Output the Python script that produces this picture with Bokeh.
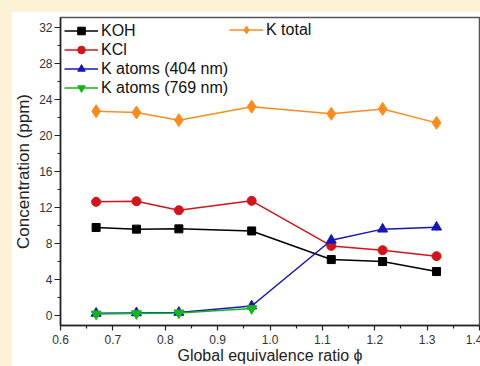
from bokeh.plotting import figure
from bokeh.layouts import column
from bokeh.models import (Range1d, FixedTicker, Legend, LegendItem, Whisker,
                          ColumnDataSource)
from bokeh.embed import file_html
from bokeh.resources import INLINE

# ---- data ----
phi = [0.668, 0.745, 0.826, 0.965, 1.117, 1.215, 1.318]
koh = [9.78, 9.60, 9.63, 9.40, 6.22, 6.00, 4.89]
kcl = [12.63, 12.70, 11.70, 12.74, 7.74, 7.26, 6.60]
kcl_err = [0.60, 0.30, 0.20, 0.20, 0.25, 0.20, 0.20]
k404 = [0.25, 0.30, 0.35, 1.07, 8.37, 9.60, 9.82]
k404_err = [0.25, 0.20, 0.20, 0.20, 0.20, 0.20, 0.40]
phi769 = [0.668, 0.745, 0.826, 0.965]
k769 = [0.18, 0.22, 0.30, 0.78]
ktotal = [22.70, 22.55, 21.70, 23.20, 22.40, 22.95, 21.40]

x_ticks = [0.6, 0.7, 0.8, 0.9, 1.0, 1.1, 1.2, 1.3, 1.4]
x_minor = [0.65, 0.75, 0.85, 0.95, 1.05, 1.15, 1.25, 1.35]
y_ticks = [0, 4, 8, 12, 16, 20, 24, 28, 32]
y_minor = [2, 6, 10, 14, 18, 22, 26, 30]

CREAM = "#FDF1D6"

p = figure(frame_width=419, frame_height=308, output_backend="svg",
           toolbar_location=None,
           x_range=Range1d(0.6, 1.4), y_range=Range1d(-1.1, 33.1),
           min_border_left=47, min_border_top=6, min_border_right=3,
           min_border_bottom=41)
p.margin = (11, 0, 0, 11)
p.background_fill_color = "white"
p.border_fill_color = "white"
p.outline_line_color = "#555555"
p.outline_line_width = 1.5
p.xgrid.visible = False
p.ygrid.visible = False

FONT = "Liberation Sans"
for ax in (p.xaxis[0], p.yaxis[0]):
    ax.axis_line_color = "#222222"
    ax.axis_line_width = 1.5
    ax.major_tick_line_color = "#222222"
    ax.minor_tick_line_color = "#222222"
    ax.major_tick_line_width = 1.2
    ax.minor_tick_line_width = 1.2
    ax.major_tick_in = 0
    ax.minor_tick_in = 0
    ax.major_label_text_font = FONT
    ax.major_label_text_font_size = "12px"
    ax.major_label_text_color = "#333333"
    ax.axis_label_text_font = FONT
    ax.axis_label_text_font_style = "normal"
    ax.axis_label_text_color = "#222222"

p.xaxis[0].ticker = FixedTicker(ticks=x_ticks, minor_ticks=x_minor)
p.xaxis[0].major_label_overrides = {t: f"{t:.1f}" for t in x_ticks}
p.xaxis[0].major_tick_out = 5
p.xaxis[0].minor_tick_out = 3
p.xaxis[0].major_label_standoff = 4
p.xaxis[0].axis_label = "Global equivalence ratio \u03d5"
p.xaxis[0].axis_label_text_font_size = "16px"
p.xaxis[0].axis_label_standoff = 0

p.yaxis[0].ticker = FixedTicker(ticks=y_ticks, minor_ticks=y_minor)
p.yaxis[0].major_tick_out = 6
p.yaxis[0].minor_tick_out = 3
p.yaxis[0].major_label_standoff = 2
p.yaxis[0].axis_label = "Concentration (ppm)"
p.yaxis[0].axis_label_text_font_size = "17px"
p.yaxis[0].axis_label_standoff = 3

# ---- series ----
C_KOH = "#000000"
C_KCL = "#D4141B"
C_404 = "#1414C0"
C_769 = "#14B814"
C_TOT = "#FF8C1A"

src_kcl = ColumnDataSource(dict(x=phi, lo=[v - e for v, e in zip(kcl, kcl_err)],
                                hi=[v + e for v, e in zip(kcl, kcl_err)]))
src_404 = ColumnDataSource(dict(x=phi, lo=[v - e for v, e in zip(k404, k404_err)],
                                hi=[v + e for v, e in zip(k404, k404_err)]))
p.add_layout(Whisker(source=src_kcl, base="x", lower="lo", upper="hi",
                     line_color="#E87070", line_width=1,
                     upper_head=None, lower_head=None))
p.add_layout(Whisker(source=src_404, base="x", lower="lo", upper="hi",
                     line_color="#6060E0", line_width=1,
                     upper_head=None, lower_head=None))

l1 = p.line(phi, koh, line_color=C_KOH, line_width=1.5)
m1 = p.scatter(phi, koh, marker="square", size=8, fill_color=C_KOH, line_color=C_KOH)
l2 = p.line(phi, kcl, line_color=C_KCL, line_width=1.5)
m2 = p.scatter(phi, kcl, marker="circle", size=9, fill_color=C_KCL, line_color=C_KCL)
l3 = p.line(phi, k404, line_color=C_404, line_width=1.5)
m3 = p.scatter(phi, k404, marker="triangle", size=10, fill_color=C_404, line_color=C_404)
l4 = p.line(phi769, k769, line_color=C_769, line_width=1.5)
m4 = p.scatter(phi769, k769, marker="inverted_triangle", size=10, fill_color=C_769, line_color=C_769)
l5 = p.line(phi, ktotal, line_color=C_TOT, line_width=1.5)
m5 = p.scatter(phi, ktotal, marker="diamond", size=13, fill_color=C_TOT, line_color=C_TOT)


def style_legend(lg):
    lg.background_fill_alpha = 0
    lg.border_line_alpha = 0
    lg.label_text_font = FONT
    lg.label_text_font_size = "16px"
    lg.label_text_color = "#111111"
    lg.glyph_width = 34
    lg.glyph_height = 19
    lg.label_height = 19
    lg.label_standoff = 3
    lg.spacing = 0
    lg.padding = 4
    lg.margin = 0


leg1 = Legend(items=[LegendItem(label="KOH", renderers=[l1, m1]),
                     LegendItem(label="KCl", renderers=[l2, m2]),
                     LegendItem(label="K atoms (404 nm)", renderers=[l3, m3]),
                     LegendItem(label="K atoms (769 nm)", renderers=[l4, m4])],
              location="top_left")
style_legend(leg1)
leg2 = Legend(items=[LegendItem(label="K total", renderers=[l5, m5])],
              location=(165, 282))
style_legend(leg2)
p.add_layout(leg1)
p.add_layout(leg2)

root = column(p, styles={"background-color": CREAM})

html = file_html(root, INLINE)
html = html.replace("</head>",
                    "<style>html,body{background-color:%s;}</style></head>" % CREAM, 1)
open("out.html", "w").write(html)
